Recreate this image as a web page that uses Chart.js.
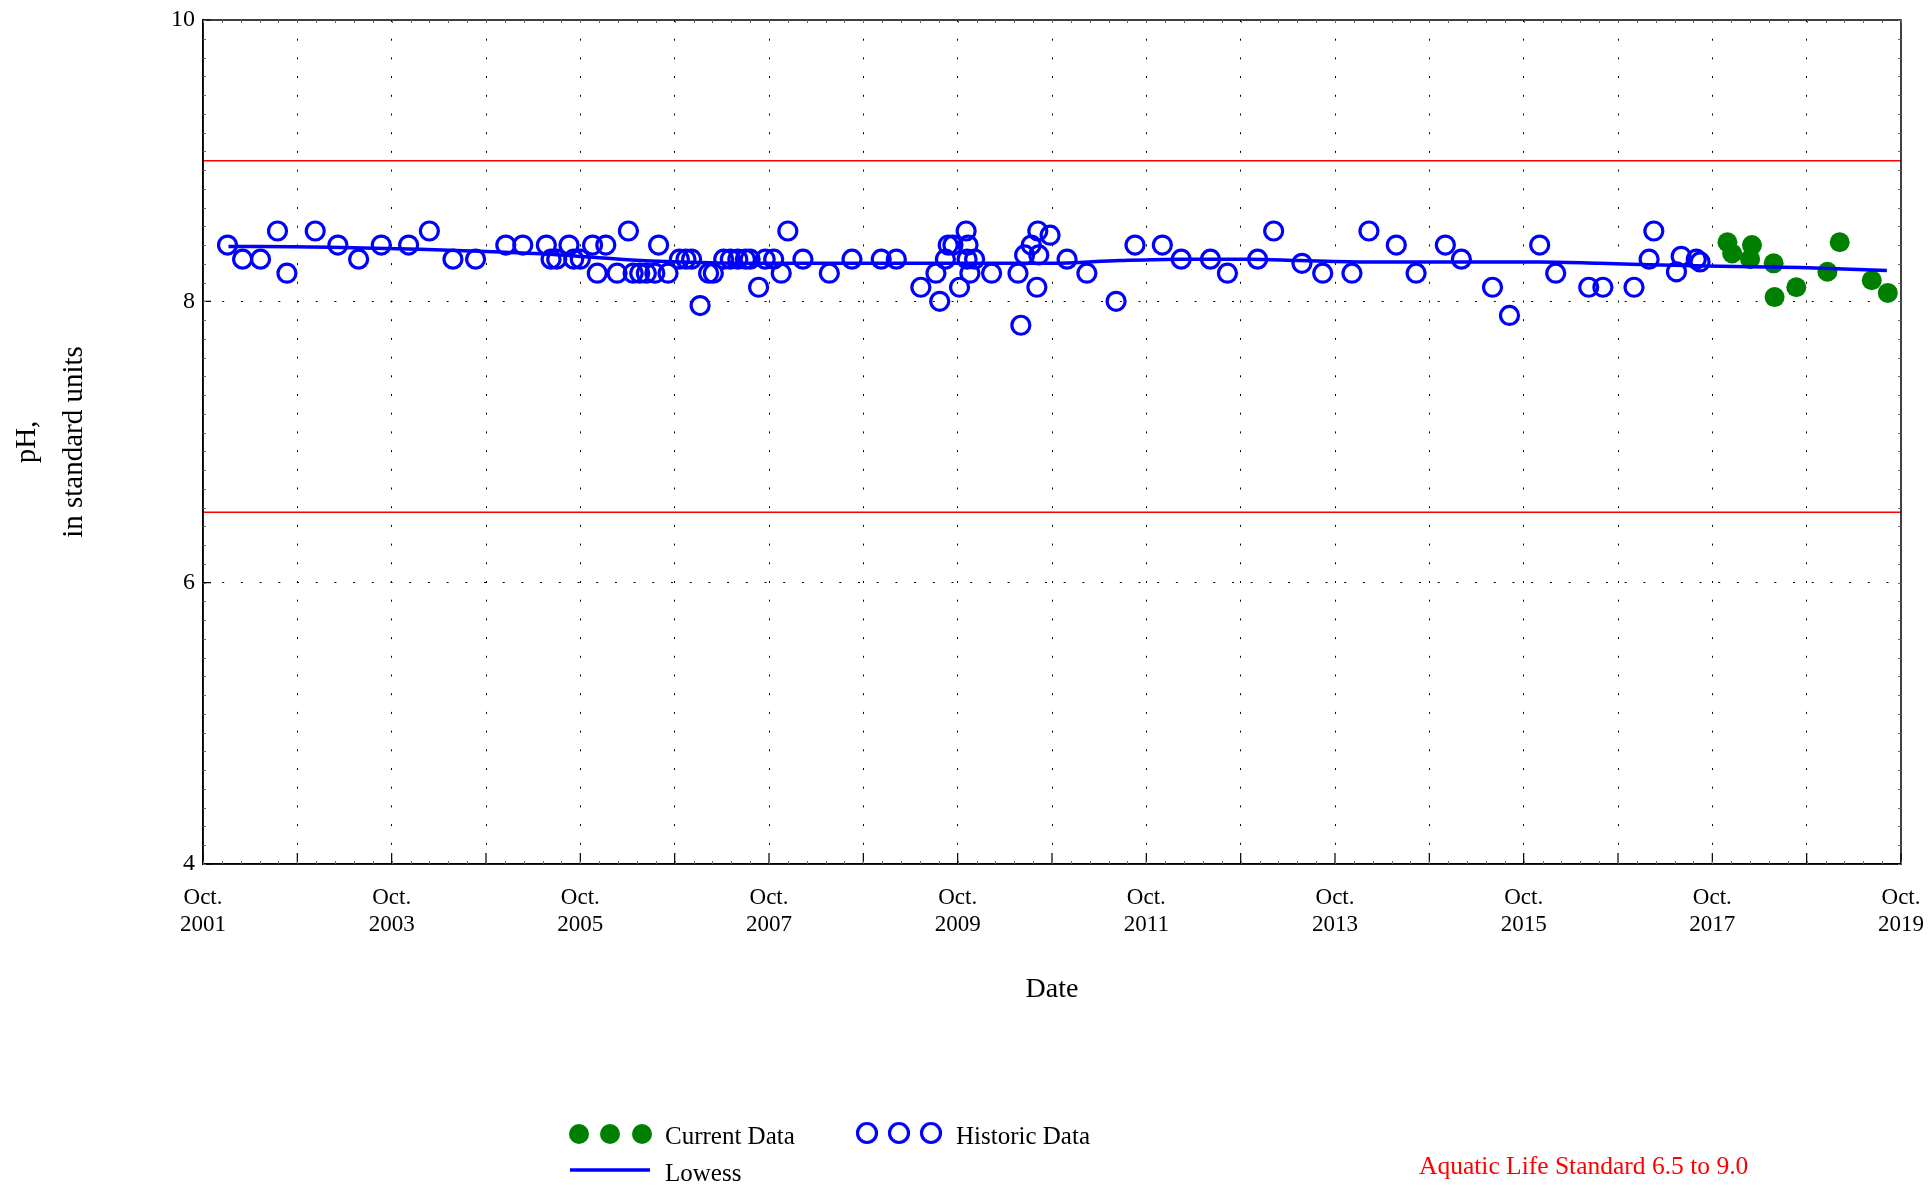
<!DOCTYPE html>
<html>
<head>
<meta charset="utf-8">
<script src="https://cdn.jsdelivr.net/npm/chart.js@4/dist/chart.umd.min.js"></script>
<style>
  html, body { margin: 0; padding: 0; background: #fff; }
  #wrap { width: 1932px; height: 1188px; }
</style>
</head>
<body>
<div id="wrap"><canvas id="phChart" width="1932" height="1188"></canvas></div>
<script>
// pH data, dates as decimal years
const histYear = [2002.01, 2002.17, 2002.36, 2002.54, 2002.64, 2002.94, 2003.18, 2003.40, 2003.64, 2003.93,
    2004.15, 2004.40, 2004.64, 2004.96, 2005.14, 2005.39, 2005.44, 2005.50, 2005.63, 2005.68,
    2005.75, 2005.88, 2005.93, 2006.02, 2006.14, 2006.26, 2006.31, 2006.38, 2006.45, 2006.54,
    2006.58, 2006.68, 2006.80, 2006.87, 2006.93, 2007.02, 2007.11, 2007.16, 2007.27, 2007.34,
    2007.42, 2007.50, 2007.55, 2007.64, 2007.71, 2007.80, 2007.88, 2007.95, 2008.11, 2008.39,
    2008.63, 2008.94, 2009.10, 2009.36, 2009.52, 2009.56, 2009.62, 2009.65, 2009.70, 2009.77,
    2009.84, 2009.85, 2009.86, 2009.88, 2009.93, 2010.11, 2010.39, 2010.42, 2010.46, 2010.53,
    2010.59, 2010.60, 2010.61, 2010.73, 2010.91, 2011.12, 2011.43, 2011.63, 2011.92, 2012.12,
    2012.43, 2012.61, 2012.93, 2013.10, 2013.40, 2013.62, 2013.93, 2014.11, 2014.40, 2014.61,
    2014.92, 2015.09, 2015.42, 2015.60, 2015.92, 2016.09, 2016.44, 2016.59, 2016.92, 2017.08,
    2017.13, 2017.37, 2017.42, 2017.58, 2017.62];
const histPH = [8.4, 8.3, 8.3, 8.5, 8.2, 8.5, 8.4, 8.3, 8.4, 8.4,
    8.5, 8.3, 8.3, 8.4, 8.4, 8.4, 8.3, 8.3, 8.4, 8.3,
    8.3, 8.4, 8.2, 8.4, 8.2, 8.5, 8.2, 8.2, 8.2, 8.2,
    8.4, 8.2, 8.3, 8.3, 8.3, 7.97, 8.2, 8.2, 8.3, 8.3,
    8.3, 8.3, 8.3, 8.1, 8.3, 8.3, 8.2, 8.5, 8.3, 8.2,
    8.3, 8.3, 8.3, 8.1, 8.2, 8.0, 8.3, 8.4, 8.4, 8.1,
    8.5, 8.3, 8.4, 8.2, 8.3, 8.2, 8.2, 7.83, 8.33, 8.4,
    8.1, 8.5, 8.33, 8.47, 8.3, 8.2, 8.0, 8.4, 8.4, 8.3,
    8.3, 8.2, 8.3, 8.5, 8.27, 8.2, 8.2, 8.5, 8.4, 8.2,
    8.4, 8.3, 8.1, 7.9, 8.4, 8.2, 8.1, 8.1, 8.1, 8.3,
    8.5, 8.21, 8.32, 8.3, 8.28];

const curYear = [2017.91, 2017.96, 2018.15, 2018.17, 2018.40, 2018.41, 2018.64, 2018.97, 2019.10, 2019.44, 2019.61];
const curPH = [8.42, 8.34, 8.30, 8.40, 8.27, 8.03, 8.10, 8.21, 8.42, 8.15, 8.06];

const lowessYear = [2002.02, 2002.35, 2003.10, 2004.05, 2004.90, 2005.53, 2006.17, 2006.81, 2007.55, 2008.61,
    2009.67, 2010.73, 2011.47, 2012.11, 2012.85, 2013.38, 2014.12, 2014.97, 2015.92, 2016.56,
    2017.09, 2017.83, 2018.68, 2019.60];
const lowessPH = [8.39, 8.39, 8.385, 8.37, 8.35, 8.33, 8.30, 8.28, 8.27, 8.27,
    8.27, 8.27, 8.29, 8.30, 8.30, 8.29, 8.28, 8.28, 8.28, 8.27,
    8.26, 8.25, 8.24, 8.22];

// aquatic life standard (lower, upper)
const standardLimits = [6.5, 9.0];

// axes
const xMin = 2001.75, xMax = 2019.75;
const gridYears = [2001.75, 2002.75, 2003.75, 2004.75, 2005.75, 2006.75, 2007.75, 2008.75, 2009.75, 2010.75,
    2011.75, 2012.75, 2013.75, 2014.75, 2015.75, 2016.75, 2017.75, 2018.75, 2019.75];
const labelYears = [2001, 2003, 2005, 2007, 2009, 2011, 2013, 2015, 2017, 2019];
const yTicks = [4, 6, 8, 10];

const serif = "'Liberation Serif', 'DejaVu Serif', serif";

function toPoints(xs, ys) {
    return xs.map((x, i) => ({x: x, y: ys[i]}));
}

function edgeColor(min, max) {
    return function (ctx) {
        const v = ctx.tick ? ctx.tick.value : null;
        if (v === null || Math.abs(v - min) < 1e-6 || Math.abs(v - max) < 1e-6) return 'rgba(0,0,0,0)';
        return '#000';
    };
}

// frame, inner ticks and minor ticks
const framePlugin = {
    id: 'frame',
    afterDraw(chart) {
        const {ctx, chartArea: a, scales: {x, y}} = chart;
        ctx.save();
        ctx.strokeStyle = '#000';
        ctx.lineWidth = 1.5;
        ctx.strokeRect(a.left, a.top, a.right - a.left, a.bottom - a.top);

        ctx.lineWidth = 1.2;
        ctx.beginPath();
        gridYears.forEach(v => {
            const px = x.getPixelForValue(v);
            ctx.moveTo(px, a.bottom);
            ctx.lineTo(px, a.bottom - 11);
        });
        yTicks.forEach(v => {
            const py = y.getPixelForValue(v);
            ctx.moveTo(a.left, py);
            ctx.lineTo(a.left + 8, py);
        });
        ctx.stroke();

        // minor ticks
        ctx.strokeStyle = '#666';
        ctx.lineWidth = 1;
        ctx.beginPath();
        for (let v = xMin; v <= xMax + 1e-6; v += 0.2) {
            const px = Math.round(x.getPixelForValue(v)) + 0.5;
            ctx.moveTo(px, a.bottom);
            ctx.lineTo(px, a.bottom - 3);
            ctx.moveTo(px, a.top);
            ctx.lineTo(px, a.top + 3);
        }
        for (let v = 4; v <= 10 + 1e-6; v += 2 / 15) {
            const py = Math.round(y.getPixelForValue(v)) + 0.5;
            ctx.moveTo(a.left, py);
            ctx.lineTo(a.left + 3, py);
            ctx.moveTo(a.right, py);
            ctx.lineTo(a.right - 3, py);
        }
        ctx.stroke();
        ctx.restore();
    }
};

// axis titles and legend
const textPlugin = {
    id: 'texts',
    afterDraw(chart) {
        const {ctx, chartArea: a} = chart;
        const midY = (a.top + a.bottom) / 2;
        ctx.save();
        ctx.fillStyle = '#000';
        ctx.textAlign = 'center';
        ctx.textBaseline = 'middle';

        ctx.font = '29px ' + serif;
        ctx.save();
        ctx.translate(27, midY);
        ctx.rotate(-Math.PI / 2);
        ctx.fillText('pH,', 0, 0);
        ctx.restore();
        ctx.save();
        ctx.translate(74, midY);
        ctx.rotate(-Math.PI / 2);
        ctx.fillText('in standard units', 0, 0);
        ctx.restore();

        ctx.font = '28px ' + serif;
        ctx.fillText('Date', (a.left + a.right) / 2, 990);

        // legend
        ctx.textAlign = 'left';
        ctx.font = '25px ' + serif;
        ctx.fillStyle = '#008000';
        [579, 610, 642].forEach(cx => {
            ctx.beginPath();
            ctx.arc(cx, 1134, 10, 0, Math.PI * 2);
            ctx.fill();
        });
        ctx.fillStyle = '#000';
        ctx.fillText('Current Data', 665, 1137);

        ctx.strokeStyle = '#0000ff';
        ctx.lineWidth = 3.2;
        [867, 899, 931].forEach(cx => {
            ctx.beginPath();
            ctx.arc(cx, 1133, 9.5, 0, Math.PI * 2);
            ctx.stroke();
        });
        ctx.fillText('Historic Data', 956, 1137);

        ctx.lineWidth = 3.5;
        ctx.beginPath();
        ctx.moveTo(570, 1170);
        ctx.lineTo(650, 1170);
        ctx.stroke();
        ctx.fillText('Lowess', 665, 1174);

        ctx.font = '25.5px ' + serif;
        ctx.fillStyle = '#ff0000';
        ctx.fillText('Aquatic Life Standard ' + standardLimits[0].toFixed(1) + ' to ' + standardLimits[1].toFixed(1), 1419, 1167);
        ctx.restore();
    }
};

const datasets = [
    {
        label: 'Lowess',
        type: 'line',
        data: toPoints(lowessYear, lowessPH),
        borderColor: '#0000ff',
        borderWidth: 3.5,
        pointRadius: 0,
        showLine: true,
        cubicInterpolationMode: 'monotone',
        order: 0
    },
    {
        label: 'Current Data',
        data: toPoints(curYear, curPH),
        backgroundColor: '#008000',
        borderWidth: 0,
        pointRadius: 10,
        order: 1
    },
    {
        label: 'Historic Data',
        data: toPoints(histYear, histPH),
        backgroundColor: 'rgba(0,0,0,0)',
        borderColor: '#0000ff',
        borderWidth: 3.2,
        pointRadius: 9,
        order: 2
    }
];
standardLimits.forEach(v => {
    datasets.push({
        label: 'Standard ' + v,
        type: 'line',
        data: [{x: xMin, y: v}, {x: xMax, y: v}],
        borderColor: '#ff0000',
        borderWidth: 1.5,
        pointRadius: 0,
        showLine: true,
        order: 3
    });
});

const ctx = document.getElementById('phChart').getContext('2d');
const phChart = new Chart(ctx, {
    type: 'scatter',
    data: {datasets: datasets},
    options: {
        responsive: false,
        animation: false,
        devicePixelRatio: 1,
        layout: {padding: {left: 0, top: 20, right: 31, bottom: 0}},
        plugins: {legend: {display: false}, tooltip: {enabled: false}},
        scales: {
            x: {
                type: 'linear',
                min: xMin,
                max: xMax,
                afterBuildTicks: s => { s.ticks = gridYears.map(v => ({value: v})); },
                afterFit: s => { s.height = 324; s.paddingLeft = 0; s.paddingRight = 0; },
                grid: {color: edgeColor(xMin, xMax), lineWidth: 1, drawTicks: false},
                border: {display: true, color: '#000', width: 1.5, dash: [2, 16.7]},
                ticks: {
                    autoSkip: false,
                    maxRotation: 0,
                    padding: 20,
                    color: '#000',
                    font: {family: serif, size: 23},
                    callback: function (value) {
                        const yr = Math.round(value - 0.75);
                        return labelYears.includes(yr) ? ['Oct.', String(yr)] : '';
                    }
                }
            },
            y: {
                min: 4,
                max: 10,
                afterBuildTicks: s => { s.ticks = yTicks.map(v => ({value: v})); },
                afterFit: s => { s.width = 203; s.paddingTop = 0; s.paddingBottom = 0; },
                grid: {color: edgeColor(4, 10), lineWidth: 1, drawTicks: false},
                border: {display: true, color: '#000', width: 1.5, dash: [2, 16.7]},
                ticks: {
                    padding: 8,
                    color: '#000',
                    font: {family: serif, size: 24}
                }
            }
        }
    },
    plugins: [framePlugin, textPlugin]
});
</script>
</body>
</html>
